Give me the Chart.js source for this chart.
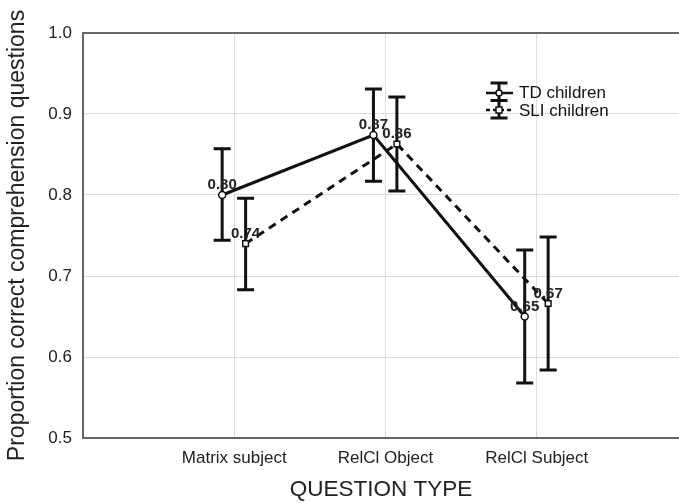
<!DOCTYPE html>
<html>
<head>
<meta charset="utf-8">
<script src="https://cdn.jsdelivr.net/npm/chart.js@4"></script>
<style>
  html, body { margin: 0; padding: 0; background: #fff; overflow: hidden; }
  #chart { display: block; }
</style>
</head>
<body>
<canvas id="chart" width="679" height="503"></canvas>
<script>
// Данные графика
const categories = ['Matrix subject', 'RelCl Object', 'RelCl Subject'];
const tdMean = [0.800, 0.874, 0.650];
const tdLow  = [0.744, 0.817, 0.568];
const tdHigh = [0.857, 0.931, 0.732];
const sliMean = [0.740, 0.863, 0.666];
const sliLow  = [0.683, 0.805, 0.584];
const sliHigh = [0.796, 0.921, 0.748];
const yTicks = [0.5, 0.6, 0.7, 0.8, 0.9, 1.0];

const FONT = '"Liberation Sans", Arial, sans-serif';
const tdShift = -0.08, sliShift = 0.075;

function points(vals, shift) {
  return vals.map((v, i) => ({ x: i + 1 + shift, y: v }));
}

// Планки погрешностей (рисуем до линий, чтобы маркеры были сверху)
const errorBars = {
  id: 'errorBars',
  beforeDatasetsDraw(chart) {
    const ctx = chart.ctx;
    const y = chart.scales.y;
    ctx.save();
    ctx.strokeStyle = '#111';
    ctx.lineWidth = 3;
    chart.data.datasets.forEach((ds, d) => {
      const meta = chart.getDatasetMeta(d);
      meta.data.forEach((pt, i) => {
        const top = y.getPixelForValue(ds.hi[i]);
        const bot = y.getPixelForValue(ds.lo[i]);
        ctx.beginPath();
        ctx.moveTo(pt.x, top); ctx.lineTo(pt.x, bot);
        ctx.moveTo(pt.x - 8.5, top); ctx.lineTo(pt.x + 8.5, top);
        ctx.moveTo(pt.x - 8.5, bot); ctx.lineTo(pt.x + 8.5, bot);
        ctx.stroke();
      });
    });
    ctx.restore();
  },
  afterDatasetsDraw(chart) {
    const ctx = chart.ctx;
    ctx.save();
    ctx.font = 'bold 15px ' + FONT;
    ctx.fillStyle = '#222';
    ctx.textAlign = 'center';
    ctx.textBaseline = 'middle';
    chart.data.datasets.forEach((ds, d) => {
      chart.getDatasetMeta(d).data.forEach((pt, i) => {
        ctx.fillText(ds.data[i].y.toFixed(2), pt.x, pt.y - 10);
      });
    });
    ctx.restore();
  },
  afterDraw(chart) {
    const ctx = chart.ctx;
    const a = chart.chartArea;
    ctx.save();
    // верхняя рамка
    ctx.strokeStyle = '#666';
    ctx.lineWidth = 2;
    ctx.beginPath();
    ctx.moveTo(a.left - 1, a.top); ctx.lineTo(a.right, a.top);
    ctx.stroke();

    // легенда
    const lx = 499;
    ctx.strokeStyle = '#111';
    ctx.lineWidth = 3;
    ctx.beginPath();
    ctx.moveTo(lx, 83); ctx.lineTo(lx, 118);
    [83, 100.5, 118].forEach(yy => { ctx.moveTo(lx - 8.5, yy); ctx.lineTo(lx + 8.5, yy); });
    ctx.stroke();
    ctx.lineWidth = 2.5;
    ctx.beginPath();
    ctx.moveTo(486, 93); ctx.lineTo(513, 93);
    ctx.stroke();
    ctx.setLineDash([4, 3]);
    ctx.beginPath();
    ctx.moveTo(486, 110); ctx.lineTo(513, 110);
    ctx.stroke();
    ctx.setLineDash([]);
    ctx.fillStyle = '#fff';
    ctx.lineWidth = 1.5;
    ctx.beginPath(); ctx.arc(lx, 93, 3, 0, Math.PI * 2); ctx.fill(); ctx.stroke();
    ctx.fillRect(lx - 3, 107, 6, 6); ctx.strokeRect(lx - 3, 107, 6, 6);

    ctx.fillStyle = '#111';
    ctx.font = '17px ' + FONT;
    ctx.textAlign = 'left';
    ctx.textBaseline = 'middle';
    ctx.fillText('TD children', 519, 93);
    ctx.fillText('SLI children', 519, 111);
    ctx.restore();
  }
};

new Chart(document.getElementById('chart'), {
  type: 'line',
  data: {
    datasets: [
      {
        label: 'TD children',
        data: points(tdMean, tdShift),
        lo: tdLow, hi: tdHigh,
        borderColor: '#111',
        borderWidth: 3,
        pointStyle: 'circle',
        pointRadius: 3.5,
        pointBorderWidth: 1.5,
        pointBackgroundColor: '#fff',
        pointBorderColor: '#111'
      },
      {
        label: 'SLI children',
        data: points(sliMean, sliShift),
        lo: sliLow, hi: sliHigh,
        borderColor: '#111',
        borderWidth: 3,
        borderDash: [8, 6],
        pointStyle: 'rect',
        pointRadius: 4,
        pointBorderWidth: 1.5,
        pointBackgroundColor: '#fff',
        pointBorderColor: '#111'
      }
    ]
  },
  options: {
    responsive: false,
    animation: false,
    events: [],
    layout: { autoPadding: false, padding: { left: 0, top: 33, right: 0, bottom: 0 } },
    plugins: { legend: { display: false }, tooltip: { enabled: false } },
    scales: {
      x: {
        type: 'linear',
        min: 0,
        max: 3.94,
        afterBuildTicks: s => { s.ticks = categories.map((c, i) => ({ value: i + 1 })); },
        afterFit: s => { s.height = 65; s.paddingRight = 0; s.paddingLeft = 0; },
        ticks: {
          padding: 10,
          color: '#222',
          font: { family: FONT, size: 17 },
          callback: v => categories[v - 1]
        },
        grid: { color: '#dcdcdc', lineWidth: 1, drawTicks: false },
        border: { display: true, color: '#666', width: 2 },
        title: {
          display: true,
          text: 'QUESTION TYPE',
          color: '#222',
          font: { family: FONT, size: 22.5 },
          padding: { top: 0, bottom: 0 }
        }
      },
      y: {
        min: 0.5,
        max: 1.0,
        afterBuildTicks: s => { s.ticks = yTicks.map(v => ({ value: v })); },
        afterFit: s => { s.width = 83; },
        ticks: {
          padding: 11,
          color: '#222',
          font: { family: FONT, size: 17 },
          callback: v => v.toFixed(1)
        },
        grid: { color: '#dcdcdc', lineWidth: 1, drawTicks: false },
        border: { display: true, color: '#666', width: 2 },
        title: {
          display: true,
          text: 'Proportion correct comprehension questions',
          color: '#222',
          font: { family: FONT, size: 23 },
          padding: { top: 4, bottom: 0 }
        }
      }
    }
  },
  plugins: [errorBars]
});
</script>
</body>
</html>
